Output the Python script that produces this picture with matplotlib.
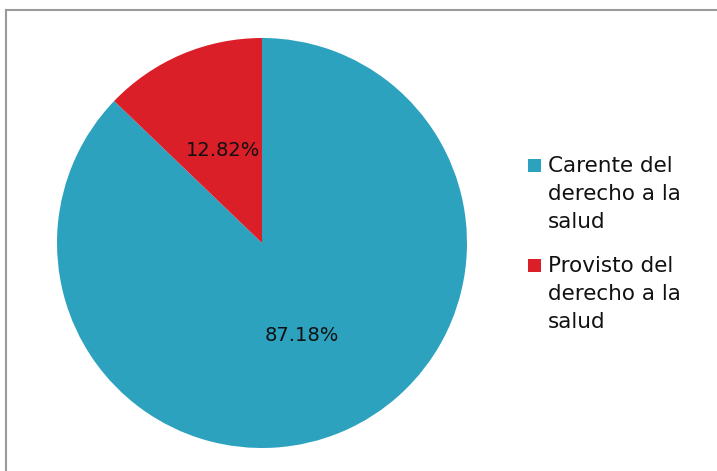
import matplotlib.pyplot as plt
from matplotlib.patches import Rectangle
from matplotlib.lines import Line2D

labels = ["Carente del\nderecho a la\nsalud", "Provisto del\nderecho a la\nsalud"]
values = [87.18, 12.82]
colors = ["#2ca2bf", "#da1f29"]

W, H = 717, 471
plt.rcParams['font.family'] = ['DejaVu Sans']
fig = plt.figure(figsize=(W / 100, H / 100), dpi=100)

# pie axes: center (262, 243), radius 205 px
cx, cy, r = 262, 243, 205
ax = fig.add_axes([(cx - r) / W, (H - cy - r) / H, 2 * r / W, 2 * r / H])
wedges, _, autotexts = ax.pie(values, colors=colors, startangle=90, counterclock=False,
                              autopct=lambda p: f"{p:.2f}%", pctdistance=0.49,
                              textprops={'fontsize': 14, 'color': '#111111'})
ax.set_xlim(-1, 1)
ax.set_ylim(-1, 1)

# frame lines (top and left)
fig.add_artist(Line2D([6 / W, 1], [1 - 9.5 / H, 1 - 9.5 / H], color="#9a9a9a", lw=1.5))
fig.add_artist(Line2D([6 / W, 6 / W], [0, 1 - 9.5 / H], color="#9a9a9a", lw=1.5))

# legend: square beside first line of each label
tops = [157, 257]
for lab, c, t in zip(labels, colors, tops):
    fig.add_artist(Rectangle((528 / W, 1 - (t + 15) / H), 13 / W, 13 / H,
                             transform=fig.transFigure, facecolor=c, edgecolor='none'))
    fig.text(548 / W, 1 - (t - 1) / H, lab, fontsize=15.5, va='top', ha='left',
             linespacing=1.5, color='#111111')

fig.savefig("out.png", dpi=100)
